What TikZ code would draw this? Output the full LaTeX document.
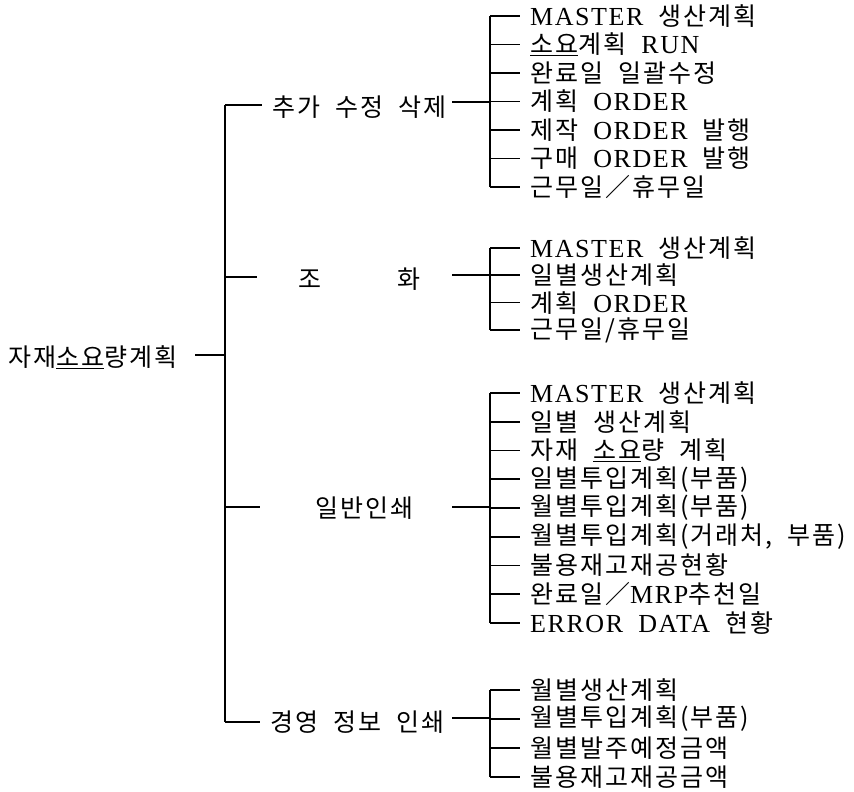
\documentclass[tikz,border=0pt]{standalone}
\usepackage{fontspec}
\setmainfont{Liberation Serif}
\newfontfamily\latf{Liberation Serif}[LetterSpace=6]
\newfontfamily\kr{Noto Sans CJK KR}[LetterSpace=8,WordSpace=2]
\newcommand\lt[1]{{\fontsize{26}{28}\latf #1}}
\tikzset{
  lbl/.style={anchor=west, inner sep=0pt, font=\kr\fontsize{25}{28}\selectfont},
  ln/.style={line width=1.7pt},
  thinln/.style={line width=1.1pt},
}
\begin{document}
\begin{tikzpicture}[x=1pt,y=-1pt]
\useasboundingbox (0,0) rectangle (854,792);
% root
\node[lbl] (root) at (8,357) {자재\underline{소요}량계획};
\coordinate (rc) at (195,355);
\coordinate (m1) at (225,105);
\coordinate (m2) at (225,277);
\coordinate (m3) at (225,507);
\coordinate (m4) at (225,722);
\draw[thinln] (rc) -- (rc -| m1);
\draw[ln] (m1) -- (m4);
% branches
\node[lbl] (b1) at (272,107) {추가 수정 삭제};
\node[lbl] (b2) at (298,279) {조\hspace{76pt}화};
\node[lbl] (b3) at (315,508) {일반인쇄};
\node[lbl] (b4) at (270,722) {경영 정보 인쇄};
\draw[ln, shorten >=10pt] (m1) -- (m1 -| b1.west);
\draw[thinln, shorten >=41pt] (m2) -- (m2 -| b2.west);
\draw[thinln, shorten >=55pt] (m3) -- (m3 -| b3.west);
\draw[ln, shorten >=10pt] (m4) -- (m4 -| b4.west);
% group verticals and connectors
\coordinate (g1) at (490,102);
\coordinate (g2) at (490,275);
\coordinate (g3) at (490,507);
\coordinate (g4) at (490,718);
\coordinate (c1) at (452,102);
\coordinate (c2) at (452,275);
\coordinate (c3) at (452,507);
\coordinate (c4) at (452,718);
\draw[thinln] (c1) -- (g1);
\draw[ln] (c2) -- (g2);
\draw[thinln] (c3) -- (g3);
\draw[ln] (c4) -- (g4);
% group 1
\foreach \t [count=\i] in {
  {\lt{MASTER} 생산계획},
  {\underline{소요}계획 \lt{RUN}},
  {완료일 일괄수정},
  {계획 \lt{ORDER}},
  {제작 \lt{ORDER} 발행},
  {구매 \lt{ORDER} 발행},
  {근무일／휴무일}}{
  \node[lbl] (ga\i) at (530,{16+(\i-1)*28.5}) {\t};
  \draw[ln] (ga\i.west -| g1) -- ([xshift=-10pt]ga\i.west);
}
\draw[ln] (ga1.west -| g1) -- (ga7.west -| g1);
% group 2
\foreach \t [count=\i] in {
  {\lt{MASTER} 생산계획},
  {일별생산계획},
  {계획 \lt{ORDER}},
  {근무일/휴무일}}{
  \node[lbl] (gb\i) at (530,{248+(\i-1)*27.3}) {\t};
  \draw[ln] (gb\i.west -| g2) -- ([xshift=-10pt]gb\i.west);
}
\draw[ln] (gb1.west -| g2) -- (gb4.west -| g2);
% group 3
\foreach \t [count=\i] in {
  {\lt{MASTER} 생산계획},
  {일별 생산계획},
  {자재 \underline{소요}량 계획},
  {일별투입계획(부품)},
  {월별투입계획(부품)},
  {월별투입계획(거래처, 부품)},
  {불용재고재공현황},
  {완료일／\lt{MRP}추천일},
  {\lt{ERROR} \lt{DATA} 현황}}{
  \node[lbl] (gc\i) at (530,{393+(\i-1)*28.75}) {\t};
  \draw[ln] (gc\i.west -| g3) -- ([xshift=-10pt]gc\i.west);
}
\draw[ln] (gc1.west -| g3) -- (gc9.west -| g3);
% group 4
\foreach \t [count=\i] in {
  {월별생산계획},
  {월별투입계획(부품)},
  {월별발주예정금액},
  {불용재고재공금액}}{
  \node[lbl] (gd\i) at (530,{690+(\i-1)*29}) {\t};
  \draw[ln] (gd\i.west -| g4) -- ([xshift=-10pt]gd\i.west);
}
\draw[ln] (gd1.west -| g4) -- (gd4.west -| g4);
\end{tikzpicture}
\end{document}
